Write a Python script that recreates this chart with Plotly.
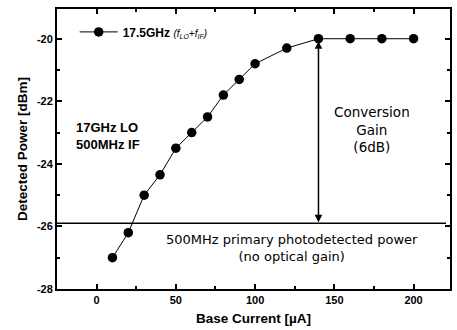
import plotly.graph_objects as go

base_current = [10, 20, 30, 40, 50, 60, 70, 80, 90, 100, 120, 140, 160, 180, 200]
detected_power = [-27.0, -26.2, -25.0, -24.35, -23.5, -23.0, -22.5, -21.8, -21.3, -20.8, -20.3, -20.0, -20.0, -20.0, -20.0]
primary_level = -25.9
gain_x = 140
gain_top = -20.0

x_ticks = [0, 50, 100, 150, 200]
y_ticks = [-28, -26, -24, -22, -20]

BOLD = "Liberation Sans, Arial, sans-serif"
REG = "DejaVu Sans, sans-serif"

fig = go.Figure()
fig.add_trace(go.Scatter(
    x=base_current, y=detected_power, mode="lines+markers",
    line=dict(color="black", width=1),
    marker=dict(color="black", size=9.5),
    name="<b>17.5GHz</b> <i><span style='font-size:10px'>(f<sub>LO</sub>+f<sub>IF</sub>)</span></i>",
    showlegend=True,
))

fig.add_shape(type="line", xref="paper", yref="y", x0=0, x1=0.99,
              y0=primary_level, y1=primary_level, line=dict(color="black", width=1.5))

fig.add_annotation(x=gain_x, y=primary_level, ax=gain_x, ay=gain_top, xref="x", yref="y",
                   axref="x", ayref="y", text="", showarrow=True, arrowhead=2,
                   arrowside="end+start", arrowsize=1, arrowwidth=1.5, arrowcolor="black",
                   standoff=1, startstandoff=1)

fig.add_annotation(x=174, y=-22.9, text="Conversion<br>Gain<br>(6dB)", showarrow=False,
                   font=dict(family=REG, size=13.5, color="black"), align="center")
fig.add_annotation(x=-14, y=-23.1, text="<b>17GHz LO<br>500MHz IF</b>", showarrow=False,
                   xanchor="left", font=dict(family=BOLD, size=13, color="black"), align="left")
fig.add_annotation(x=123, y=-26.7, text="500MHz primary photodetected power<br>(no optical gain)",
                   showarrow=False, font=dict(family=REG, size=13, color="black"), align="center")

axis_common = dict(showgrid=False, zeroline=False, showline=True, linecolor="black", linewidth=2,
                   mirror="ticks", ticks="inside", ticklen=5, tickwidth=1.5, tickcolor="black",
                   tickfont=dict(family=BOLD, size=11, color="black"))

fig.update_xaxes(range=[-25, 223], tickvals=x_ticks, ticktext=[f"<b>{v}</b>" for v in x_ticks],
                 title=dict(text="<b>Base Current [µA]</b>", font=dict(family=BOLD, size=13.5, color="black"), standoff=8),
                 minor=dict(ticks="inside", ticklen=3, tickcolor="black", dtick=25, tick0=0),
                 **axis_common)
fig.update_yaxes(range=[-28, -19.05], tickvals=y_ticks, ticktext=[f"<b>{v}</b>" for v in y_ticks],
                 title=dict(text="<b>Detected Power [dBm]</b>", font=dict(family=BOLD, size=13.5, color="black"), standoff=6),
                 minor=dict(ticks="inside", ticklen=3, tickcolor="black", dtick=1, tick0=-28),
                 **axis_common)

fig.update_layout(
    width=457, height=330,
    margin=dict(l=57, r=5, t=9, b=41),
    paper_bgcolor="white", plot_bgcolor="white",
    font=dict(family=BOLD, size=11, color="black"),
    legend=dict(x=0.045, y=0.97, xanchor="left", yanchor="top", bgcolor="rgba(0,0,0,0)",
                font=dict(family=BOLD, size=12, color="black"), itemwidth=38),
)

fig.write_html("out.html", config={"displayModeBar": False},
               post_script="document.body.style.margin='0';document.body.style.overflow='hidden';")
